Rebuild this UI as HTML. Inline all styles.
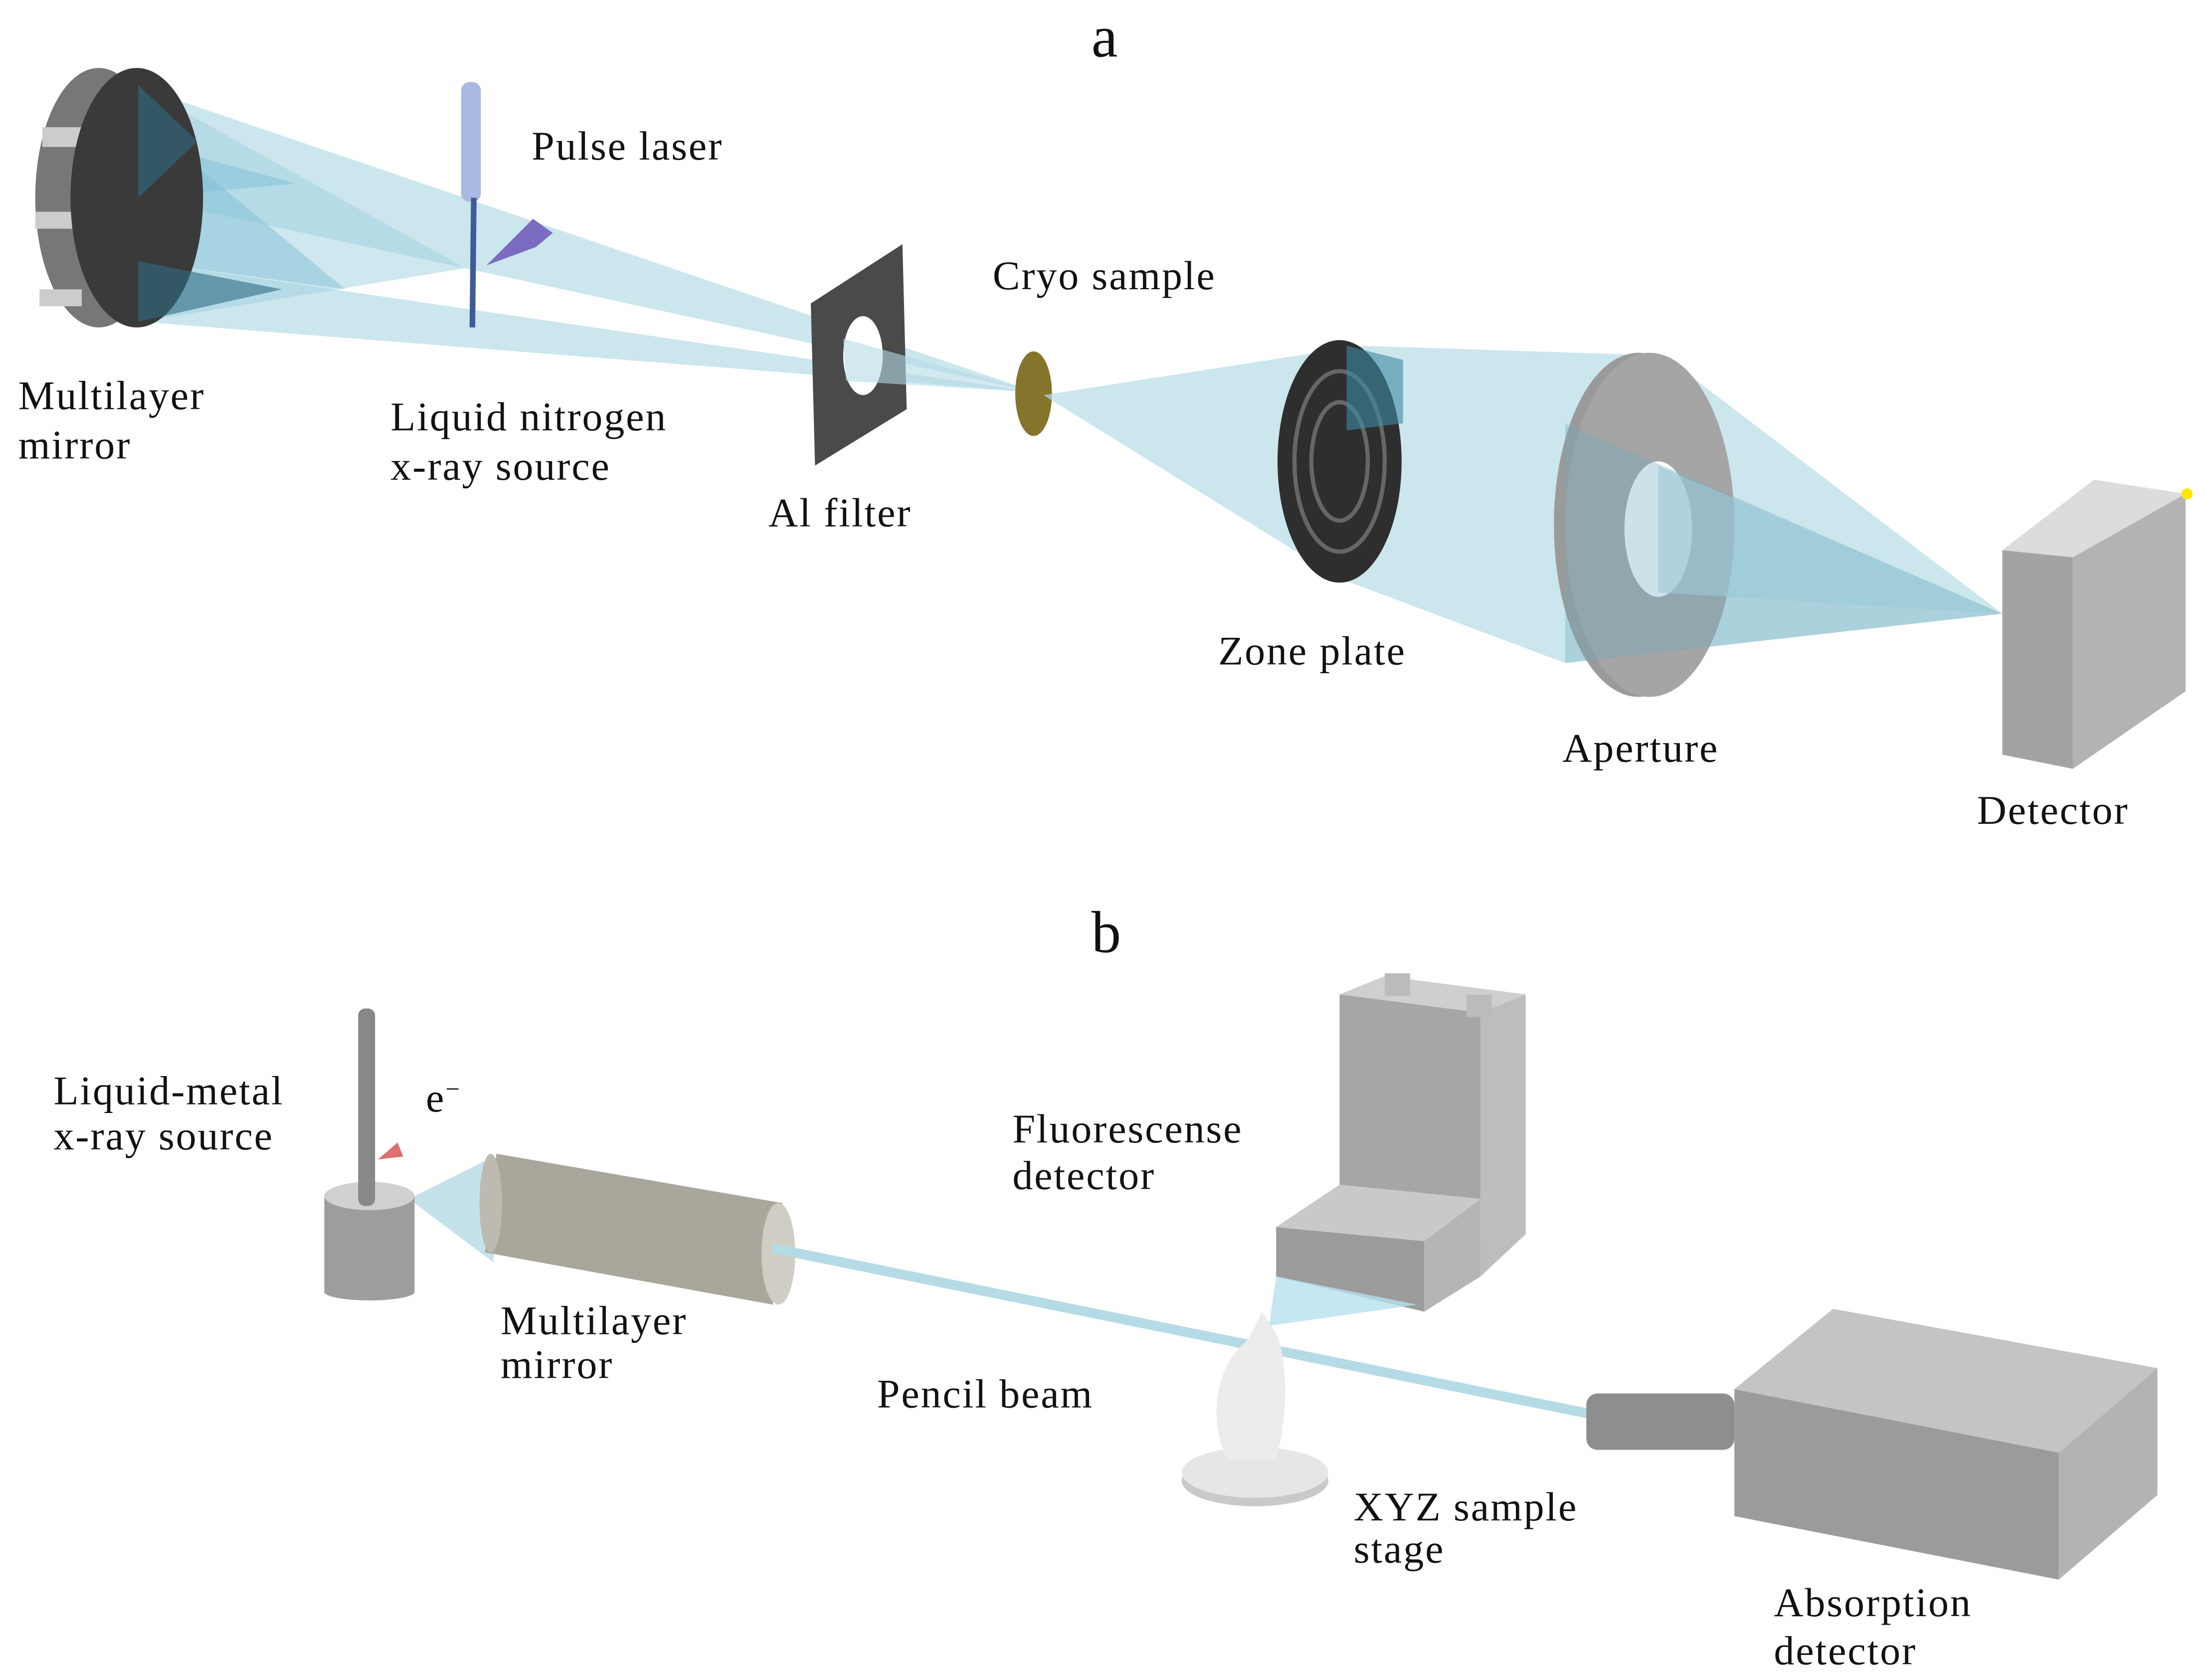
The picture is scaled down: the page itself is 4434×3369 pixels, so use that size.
<!DOCTYPE html>
<html><head><meta charset="utf-8"><style>
html,body{margin:0;padding:0;background:#fff;}
svg{display:block;}
text{font-family:"Liberation Serif",serif;font-size:29px;letter-spacing:1px;fill:#111;}
</style></head><body>
<svg width="4434" height="3369" viewBox="0 0 1568 1191" xmlns="http://www.w3.org/2000/svg">
<rect width="1568" height="1191" fill="#fff"/>
<!-- ===== a ===== -->
<text x="774" y="40" style="font-size:42px;letter-spacing:0">a</text>
<polygon points="100,62 735,278 100,140" fill="#b5dbe6" opacity="0.7"/>
<polygon points="100,185 735,278 100,228" fill="#b5dbe6" opacity="0.7"/>
<polygon points="100,62 330,190 100,228" fill="#9fd0df" opacity="0.5"/>
<polygon points="100,85 245,205 100,185" fill="#7fbfd6" opacity="0.5"/>
<polygon points="100,100 210,130 100,140" fill="#7fbfd6" opacity="0.5"/>
<ellipse cx="70" cy="140" rx="45" ry="92" fill="#777"/>
<rect x="30" y="90" width="30" height="14" fill="#ccc"/>
<rect x="25" y="150" width="30" height="12" fill="#ccc"/>
<rect x="28" y="205" width="30" height="12" fill="#ccc"/>
<ellipse cx="97" cy="140" rx="47" ry="92" fill="#3a3a3a"/>
<polygon points="98,60 140,100 98,140" fill="#2f6b82" opacity="0.6"/>
<polygon points="98,185 200,205 98,228" fill="#2f6b82" opacity="0.6"/>
<rect x="327" y="58" width="14" height="85" rx="6" fill="#a9b9e2"/>
<line x1="336" y1="140" x2="335" y2="232" stroke="#3e5c9a" stroke-width="4"/>
<polygon points="345,188 378,155 392,165 380,175" fill="#7b6bc0"/>
<polygon points="575,215 640,173 643,290 578,330" fill="#4a4a4a"/>
<ellipse cx="612" cy="252" rx="14" ry="28" fill="#fff"/>
<polygon points="598,240 735,278 600,270" fill="#b5dbe6" opacity="0.6"/>
<ellipse cx="733" cy="279" rx="13" ry="30" fill="#85742c"/>
<polygon points="740,280 965,245 950,410" fill="#b5dbe6" opacity="0.7"/>
<polygon points="965,245 1180,252 1420,435 1110,470 950,410" fill="#b5dbe6" opacity="0.7"/>
<ellipse cx="950" cy="327" rx="44" ry="86" fill="#2e2e2e"/>
<ellipse cx="950" cy="327" rx="32" ry="64" fill="none" stroke="#666" stroke-width="3"/>
<ellipse cx="950" cy="327" rx="20" ry="42" fill="none" stroke="#666" stroke-width="3"/>
<polygon points="955,245 995,255 995,300 955,305" fill="#3f8aa3" opacity="0.6"/>
<ellipse cx="1162" cy="372" rx="60" ry="122" fill="#9a9a9a"/>
<ellipse cx="1170" cy="372" rx="60" ry="122" fill="#a5a5a5"/>
<ellipse cx="1176" cy="375" rx="24" ry="48" fill="#fff"/>
<polygon points="1176,330 1420,435 1176,420" fill="#b5dbe6" opacity="0.6"/>
<polygon points="1110,300 1420,435 1110,470" fill="#6ea8bd" opacity="0.35"/>
<polygon points="1420,390 1485,340 1550,350 1470,395" fill="#dcdcdc"/>
<polygon points="1470,395 1550,350 1550,490 1470,545" fill="#b3b3b3"/>
<polygon points="1420,390 1470,395 1470,545 1420,535" fill="#a3a3a3"/>
<circle cx="1551" cy="350" r="4" fill="#ffe800"/>
<text x="377" y="113">Pulse laser</text>
<text x="13" y="290">Multilayer</text>
<text x="13" y="325">mirror</text>
<text x="277" y="305">Liquid nitrogen</text>
<text x="277" y="340">x-ray source</text>
<text x="545" y="373">Al filter</text>
<text x="704" y="205">Cryo sample</text>
<text x="864" y="471">Zone plate</text>
<text x="1108" y="540">Aperture</text>
<text x="1402" y="584">Detector</text>
<!-- ===== b ===== -->
<text x="774" y="675" style="font-size:42px;letter-spacing:0">b</text>
<polygon points="290,850 350,820 350,895" fill="#b5dbe6" opacity="0.8"/>
<rect x="230" y="848" width="64" height="68" fill="#9d9d9d"/>
<ellipse cx="262" cy="916" rx="32" ry="6" fill="#9d9d9d"/>
<ellipse cx="262" cy="848" rx="32" ry="10" fill="#d0d0d0"/>
<rect x="254" y="715" width="12" height="140" rx="5" fill="#888"/>
<polygon points="268,822 282,810 286,820" fill="#e07070"/>
<polygon points="352,818 555,853 548,925 344,888" fill="#a9a79c"/>
<ellipse cx="348" cy="853" rx="8" ry="35" fill="#bdbbb0"/>
<ellipse cx="552" cy="889" rx="12" ry="36" fill="#cfcdc4"/>
<line x1="548" y1="885" x2="1130" y2="1003" stroke="#b5dbe6" stroke-width="7"/>
<polygon points="950,705 1050,718 1082,705 982,692" fill="#cfcfcf"/>
<polygon points="950,705 1050,718 1050,850 950,840" fill="#a6a6a6"/>
<polygon points="1050,718 1082,705 1082,875 1050,905" fill="#bdbdbd"/>
<polygon points="905,870 950,840 1050,850 1010,880" fill="#c9c9c9"/>
<polygon points="905,870 1010,880 1010,930 905,905" fill="#9c9c9c"/>
<polygon points="1010,880 1050,850 1050,905 1010,930" fill="#b5b5b5"/>
<rect x="982" y="690" width="18" height="16" fill="#bbb"/>
<rect x="1040" y="705" width="18" height="16" fill="#bbb"/>
<polygon points="905,905 1005,925 900,940" fill="#b5e1ef" opacity="0.8"/>
<ellipse cx="890" cy="1050" rx="52" ry="18" fill="#c9c9c9"/>
<ellipse cx="890" cy="1044" rx="52" ry="18" fill="#e6e6e6"/>
<path d="M870,1035 C855,1000 865,965 885,950 L895,930 L905,945 C915,970 912,1010 905,1035 Z" fill="#ececec"/>
<rect x="1125" y="988" width="105" height="40" rx="8" fill="#8e8e8e"/>
<polygon points="1230,985 1300,928 1530,970 1460,1030" fill="#c4c4c4"/>
<polygon points="1230,985 1460,1030 1460,1120 1230,1075" fill="#9b9b9b"/>
<polygon points="1460,1030 1530,970 1530,1060 1460,1120" fill="#b3b3b3"/>
<text x="302" y="788">e<tspan dy="-10" style="font-size:18px">−</tspan></text>
<text x="38" y="783">Liquid-metal</text>
<text x="38" y="815">x-ray source</text>
<text x="718" y="810">Fluorescense</text>
<text x="718" y="843">detector</text>
<text x="355" y="946">Multilayer</text>
<text x="355" y="977">mirror</text>
<text x="622" y="998">Pencil beam</text>
<text x="960" y="1078">XYZ sample</text>
<text x="960" y="1108">stage</text>
<text x="1258" y="1146">Absorption</text>
<text x="1258" y="1180">detector</text>
</svg>
</body></html>
